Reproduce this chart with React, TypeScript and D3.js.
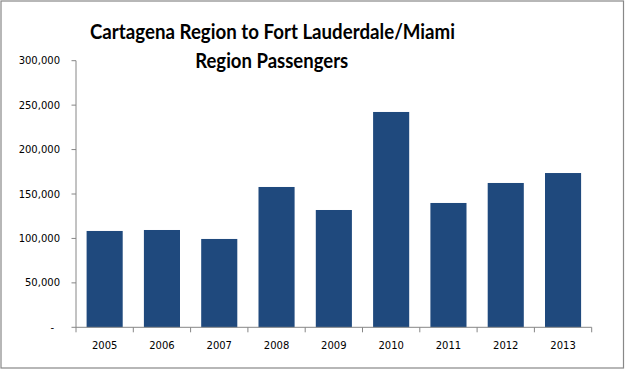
import React from "react";
import * as d3 from "d3";

const years = ["2005", "2006", "2007", "2008", "2009", "2010", "2011", "2012", "2013"];
const passengers = [108400, 109500, 99400, 157900, 132000, 242300, 139900, 162400, 173600];
const yTicks = [0, 50000, 100000, 150000, 200000, 250000, 300000];
const titleLines = ["Cartagena Region to Fort Lauderdale/Miami", "Region Passengers"];

const W = 626;
const H = 371;
const left = 76;
const right = 591.7;
const top = 60.7;
const bottom = 327.3;
const barColor = "#1F497D";
const axisColor = "#868686";

export default function App() {
  const x = d3.scaleBand<string>().domain(years).range([left, right]).paddingInner(0.37).paddingOuter(0.185);
  const xb = d3.scaleBand<string>().domain(years).range([left, right]);
  const y = d3.scaleLinear().domain([0, 300000]).range([bottom, top]);
  const fmt = d3.format(",");
  const font = "'DejaVu Sans', Tahoma, sans-serif";
  const tfont = "Lato, 'Open Sans', sans-serif";
  return (
    <svg width={W} height={H} style={{ position: "absolute", left: 0, top: 0, background: "#fff" }}>
      <rect x={1} y={1} width={622.5} height={367} fill="#fff" stroke="#888" strokeWidth={1.2} />
      <text x={272.5} y={39} textAnchor="middle" fontFamily={tfont} fontWeight="bold" fontSize={21} textLength={365} lengthAdjust="spacingAndGlyphs" fill="#000">{titleLines[0]}</text>
      <text x={271.7} y={68} textAnchor="middle" fontFamily={tfont} fontWeight="bold" fontSize={21} textLength={153} lengthAdjust="spacingAndGlyphs" fill="#000">{titleLines[1]}</text>
      {years.map((yr, i) => (
        <rect key={yr} x={x(yr)} y={y(passengers[i])} width={x.bandwidth()} height={y(0) - y(passengers[i])} fill={barColor} />
      ))}
      <line x1={left} x2={left} y1={top} y2={bottom} stroke={axisColor} />
      {yTicks.map((t) => (
        <g key={t}>
          <line x1={left - 4.5} x2={left} y1={y(t)} y2={y(t)} stroke={axisColor} />
          <text x={t === 0 ? 54 : 60} y={y(t) + 3.5} textAnchor="end" fontFamily={font} fontSize={10} fill="#000">{t === 0 ? "-" : fmt(t)}</text>
        </g>
      ))}
      <line x1={left} x2={right} y1={bottom} y2={bottom} stroke={axisColor} />
      {[...years.map((yr) => xb(yr) as number), right].map((p, i) => (
        <line key={i} x1={p} x2={p} y1={bottom} y2={bottom + 5} stroke={axisColor} />
      ))}
      {years.map((yr) => (
        <text key={yr} x={(xb(yr) as number) + xb.bandwidth() / 2} y={349} textAnchor="middle" fontFamily={font} fontSize={10} fill="#000">{yr}</text>
      ))}
    </svg>
  );
}
